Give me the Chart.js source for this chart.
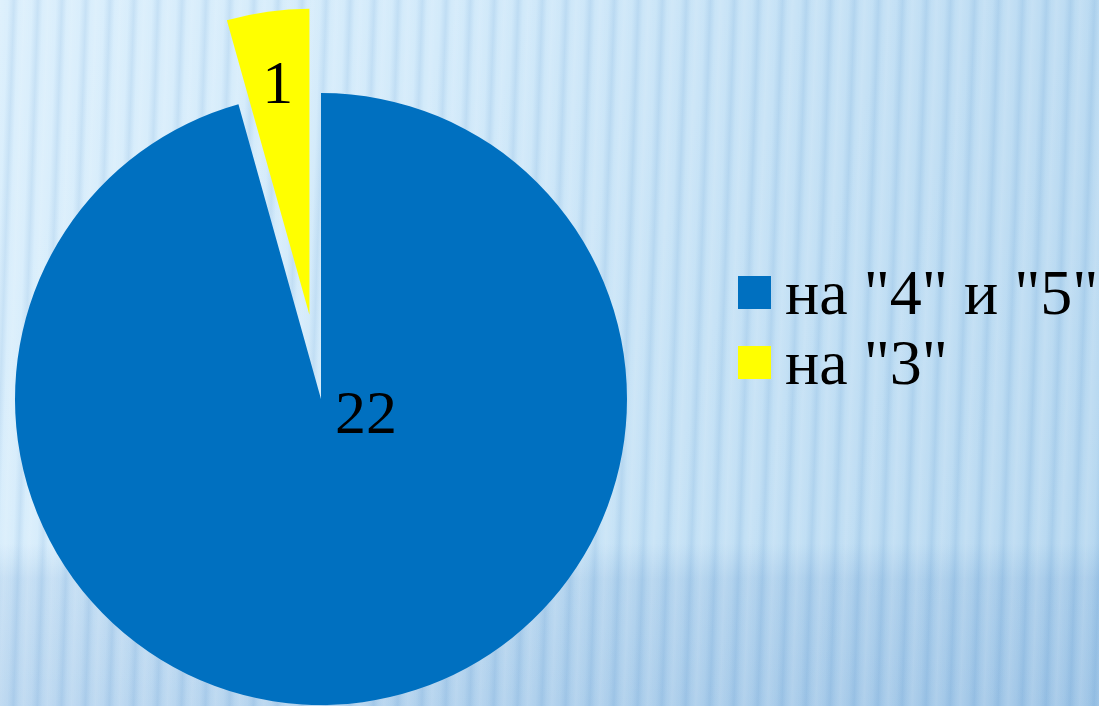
<!DOCTYPE html>
<html>
<head>
<meta charset="utf-8">
<script src="https://cdn.jsdelivr.net/npm/chart.js@4"></script>
<style>
  html, body { margin: 0; padding: 0; }
  body {
    width: 1099px; height: 706px; overflow: hidden; position: relative;
    background:
      repeating-linear-gradient(92deg, rgba(255,255,255,0.16) 0px, rgba(255,255,255,0.05) 8px, rgba(80,140,200,0.12) 14px, rgba(255,255,255,0.05) 19px, rgba(255,255,255,0.16) 24px),
      linear-gradient(180deg, rgba(0,0,0,0) 0%, rgba(0,0,0,0) 77%, rgba(60,120,190,0.14) 82%, rgba(60,120,190,0.2) 100%),
      linear-gradient(105deg, #d9eefc 0%, #d0e9fa 35%, #c2e0f5 62%, #b2d5ef 100%);
  }
  #pieBox { position: absolute; left: -70px; top: 8px; width: 782px; height: 782px; }
  #legend { position: absolute; left: 738px; top: 258px; margin: 0; padding: 0; list-style: none; }
  #legend li {
    position: relative; height: 70px; line-height: 70px; padding-left: 47px;
    font-family: "Liberation Serif", "Times New Roman", serif; font-size: 64px; color: #000; white-space: nowrap;
  }
  #legend li span { position: absolute; left: 0; top: 18px; width: 33px; height: 33px; }
</style>
</head>
<body>
<div id="pieBox"><canvas id="gradesPie"></canvas></div>
<ul id="legend"></ul>
<script>
'use strict';
//** Data */

let gradelabels = ['на "4" и "5"', 'на "3"'];
let gradecounts = [22, 1];
let gradecolors = ['#0070C0', '#FFFF00'];

// the small slice is pulled out of the pie by this many px
let explodeindex = 1;
let explodedistance = 85;

//** Legend (html) */

let legendlist = document.getElementById('legend');
for (let i = 0; i < gradelabels.length; i++){
  let item = document.createElement('li');
  let box = document.createElement('span');
  box.style.background = gradecolors[i];
  item.appendChild(box);
  item.appendChild(document.createTextNode(gradelabels[i]));
  legendlist.appendChild(item);
}

//** Plugins */

// chart.js offset also grows the slice, so move the arc's centre instead
let explodeslice = {
  id: 'explodeslice',
  afterUpdate(chart){
    let arc = chart.getDatasetMeta(0).data[explodeindex];
    if (!arc) return;
    let mid = (arc.startAngle + arc.endAngle) / 2;
    arc.x += Math.cos(mid) * explodedistance;
    arc.y += Math.sin(mid) * explodedistance;
  }
};

let valuelabels = {
  id: 'valuelabels',
  afterDatasetsDraw(chart){
    let c = chart.ctx;
    let meta = chart.getDatasetMeta(0);
    c.save();
    c.fillStyle = '#000';
    c.font = '62px "Liberation Serif", "Times New Roman", serif';
    c.textAlign = 'center';
    c.textBaseline = 'middle';
    meta.data.forEach(function(arc, i){
      let p = arc.getProps(['x', 'y', 'startAngle', 'endAngle', 'outerRadius']);
      let mid = (p.startAngle + p.endAngle) / 2;
      let tx, ty;
      if (i === explodeindex){
        // along the bisector, near the outer edge
        tx = p.x + Math.cos(mid) * p.outerRadius * 0.76;
        ty = p.y + Math.sin(mid) * p.outerRadius * 0.76;
      } else {
        // big slice: label sits just right/below the centre
        tx = p.x + p.outerRadius * 0.147;
        ty = p.y + p.outerRadius * 0.052;
      }
      c.fillText(String(gradecounts[i]), tx, ty + 2);
    });
    c.restore();
  }
};

//** Chart */

let ctx = document.getElementById('gradesPie');

let chartObj = {
  type: 'pie',
  data: {
    labels: gradelabels,
    datasets: [{
      data: gradecounts,
      backgroundColor: gradecolors,
      borderWidth: 0,
      offset: 0,
      hoverOffset: 0
    }]
  },
  options: {
    responsive: true,
    maintainAspectRatio: false,
    animation: false,
    events: [],
    layout: { padding: 85 },
    plugins: {
      legend: { display: false },
      tooltip: { enabled: false }
    }
  },
  plugins: [explodeslice, valuelabels]
};

let gradeschart = new Chart(ctx, chartObj);
</script>
</body>
</html>
